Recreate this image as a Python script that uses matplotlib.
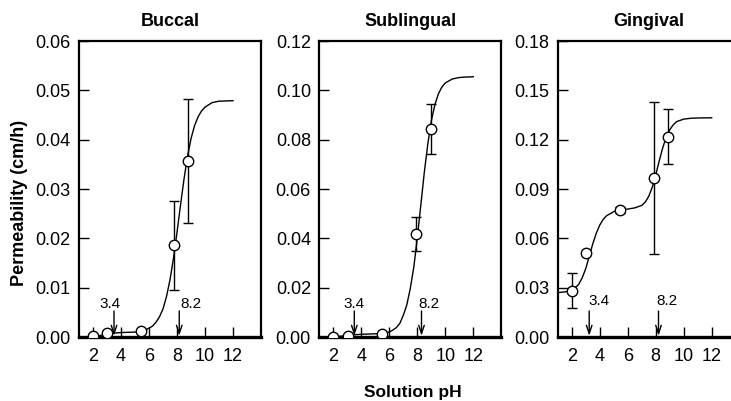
import matplotlib
matplotlib.use("Agg")
import matplotlib.pyplot as plt
import matplotlib.transforms as mtransforms

# ---------------- data ----------------
titles = ["Buccal", "Sublingual", "Gingival"]

buccal_ph = [2.0, 3.0, 5.4, 7.8, 8.8]
buccal_p = [0.0002, 0.0009, 0.0013, 0.0186, 0.0357]
buccal_err = [0.0, 0.0004, 0.0, 0.0090, 0.0126]
buccal_curve_ph = [2.0, 2.5, 3.0, 3.5, 4.0, 5.0, 5.5, 6.0, 6.25, 6.5, 6.75, 7.0, 7.25,
                   7.5, 7.75, 8.0, 8.25, 8.5, 8.75, 9.0, 9.25, 9.5, 9.75, 10.0, 10.5,
                   11.0, 12.0]
buccal_curve_p = [0.0002, 0.0003, 0.0006, 0.0008, 0.0009, 0.0010, 0.0011, 0.0018, 0.0022,
                  0.0030, 0.0041, 0.0057, 0.0082, 0.0116, 0.0160, 0.0212, 0.0267, 0.0320,
                  0.0366, 0.0402, 0.0428, 0.0446, 0.0458, 0.0466, 0.0475, 0.0478, 0.0479]

subl_ph = [2.0, 3.05, 5.5, 7.9, 8.95]
subl_p = [0.0001, 0.0005, 0.0013, 0.0418, 0.0843]
subl_err = [0.0, 0.0, 0.0, 0.0070, 0.0101]
subl_curve_ph = [2.0, 2.5, 3.0, 3.5, 4.0, 5.0, 5.5, 6.0, 6.25, 6.5, 6.75, 7.0, 7.25, 7.5,
                 7.75, 8.0, 8.25, 8.5, 8.75, 9.0, 9.25, 9.5, 9.75, 10.0, 10.5, 11.0, 11.5,
                 12.0]
subl_curve_p = [0.0002, 0.0003, 0.0006, 0.0009, 0.0011, 0.0013, 0.0014, 0.0020, 0.0028,
                0.0038, 0.0055, 0.0088, 0.0130, 0.0197, 0.0283, 0.0402, 0.0534, 0.0667,
                0.0782, 0.0876, 0.0940, 0.0985, 0.1013, 0.1030, 0.1046, 0.1052, 0.1054,
                0.1055]

ging_ph = [2.0, 3.0, 5.45, 7.85, 8.9]
ging_p = [0.0282, 0.0509, 0.0772, 0.0967, 0.1218]
ging_err = [0.0105, 0.0012, 0.0018, 0.0461, 0.0167]
ging_curve_ph = [1.0, 1.5, 2.0, 2.25, 2.5, 2.75, 3.0, 3.25, 3.5, 3.75, 4.0, 4.25, 4.5, 5.0,
                 5.5, 6.0, 6.5, 7.0, 7.25, 7.5, 7.75, 8.0, 8.25, 8.5, 8.75, 9.0, 9.25, 9.5,
                 10.0, 10.5, 11.0, 12.0]
ging_curve_p = [0.0270, 0.0274, 0.0285, 0.0300, 0.0320, 0.0360, 0.0415, 0.0490, 0.0565,
                0.0630, 0.0680, 0.0715, 0.0738, 0.0762, 0.0772, 0.0778, 0.0785, 0.0800,
                0.0820, 0.0855, 0.0910, 0.0985, 0.1070, 0.1150, 0.1215, 0.1260, 0.1290,
                0.1310, 0.1325, 0.1330, 0.1332, 0.1333]

y_max = [0.06, 0.12, 0.18]
y_step = [0.01, 0.02, 0.03]
x_ticks = [2, 4, 6, 8, 10, 12]
pka_labels = ["3.4", "8.2"]
# arrow x positions and label x positions (pH units) per panel
arrow_x = [[3.5, 8.16], [3.5, 8.3], [3.25, 8.2]]
label_x = [[3.2, 9.0], [3.45, 8.8], [3.95, 8.82]]
label_y = [0.111, 0.110, 0.123]

panels = [
    (buccal_ph, buccal_p, buccal_err, buccal_curve_ph, buccal_curve_p),
    (subl_ph, subl_p, subl_err, subl_curve_ph, subl_curve_p),
    (ging_ph, ging_p, ging_err, ging_curve_ph, ging_curve_p),
]

# ---------------- figure ----------------
plt.rcParams["font.family"] = ["Liberation Sans", "DejaVu Sans"]
W, H = 731, 401
fig = plt.figure(figsize=(W / 100, H / 100), dpi=100)

lefts = [79, 319.3, 557.7]
ax_w = 182
ax_bottom = 337
ax_top = 41

for i, (ph, p, err, cph, cp) in enumerate(panels):
    ax = fig.add_axes([lefts[i] / W, 1 - ax_bottom / H, ax_w / W, (ax_bottom - ax_top) / H])
    ax.plot(cph, cp, color="black", lw=1.0, zorder=2)
    ax.errorbar(ph, p, yerr=err, fmt="none", ecolor="black", elinewidth=1.0,
                capsize=3.5, capthick=1.0, zorder=3)
    ax.plot(ph, p, "o", ms=7.5, mfc="white", mec="black", mew=1.0, zorder=4)

    ax.set_xlim(1, 14)
    ax.set_ylim(0, y_max[i])
    n = int(round(y_max[i] / y_step[i]))
    ax.set_yticks([k * y_step[i] for k in range(n + 1)])
    ax.yaxis.set_major_formatter(matplotlib.ticker.FormatStrFormatter("%.2f"))
    ax.set_xticks(x_ticks)
    ax.tick_params(axis="both", direction="in", length=7, width=1.0,
                   labelsize=13, colors="black")
    ax.tick_params(axis="x", pad=8)
    ax.tick_params(axis="y", pad=6)
    for s in ["left", "top", "right"]:
        ax.spines[s].set_linewidth(1.6)
    ax.spines["bottom"].set_linewidth(2.4)

    ax.set_title(titles[i], fontsize=13, fontweight="bold", pad=11)

    trans = mtransforms.blended_transform_factory(ax.transData, ax.transAxes)
    for j in range(2):
        ax.annotate("", xy=(arrow_x[i][j], 0.004), xycoords=trans,
                    xytext=(arrow_x[i][j], 0.088), textcoords=trans,
                    arrowprops=dict(arrowstyle="->,head_length=0.6,head_width=0.2",
                                    color="black", lw=1.0, shrinkA=0, shrinkB=0))
        ax.text(label_x[i][j], label_y[i], pka_labels[j], transform=trans,
                ha="center", va="center", fontsize=11)

fig.text(20 / W, 1 - 203 / H, "Permeability (cm/h)", rotation=90, ha="center",
         va="center", fontsize=13, fontweight="bold")
fig.text(413 / W, 1 - 392 / H, "Solution pH", ha="center", va="center",
         fontsize=12.5, fontweight="bold")

fig.savefig("out.png", dpi=100)
